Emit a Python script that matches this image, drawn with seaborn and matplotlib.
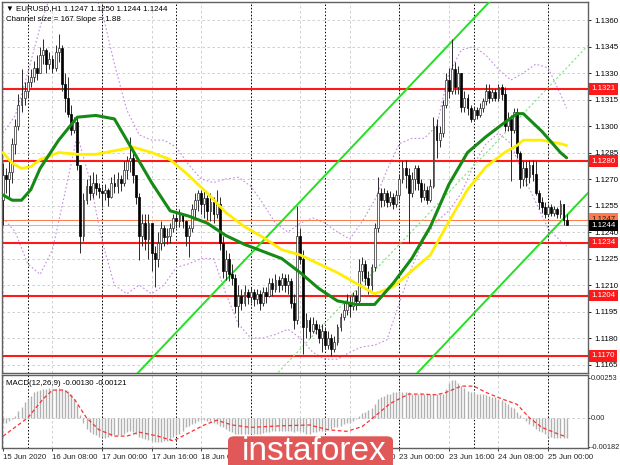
import numpy as np
import pandas as pd
import seaborn as sns
import matplotlib.pyplot as plt
from matplotlib.patches import FancyBboxPatch

sns.set_theme(style="white")
plt.rcParams['font.family'] = ['Liberation Sans', 'DejaVu Sans']

# ---- EURUSD H1 candles (bar 0 = 15 Jun 16:00) ----
first_open = 1.1258
bar_close = [1.1272, 1.1270, 1.1274, 1.1290, 1.1300, 1.1312, 1.1316, 1.1320, 1.1325, 1.1328,
             1.1333, 1.1330, 1.1340, 1.1343, 1.1335, 1.1338, 1.1333, 1.1342, 1.1344, 1.1324,
             1.1316, 1.1307, 1.1298, 1.1302, 1.1278, 1.1238, 1.1258, 1.1266, 1.1262, 1.1268,
             1.1265, 1.1263, 1.1262, 1.1264, 1.1260, 1.1268, 1.1266, 1.1270, 1.1268, 1.1275,
             1.1280, 1.1282, 1.1272, 1.1260, 1.1238, 1.1245, 1.1236, 1.1245, 1.1228, 1.1225,
             1.1234, 1.1242, 1.1237, 1.1238, 1.1242, 1.1248, 1.1246, 1.1250, 1.1246, 1.1238,
             1.1242, 1.1253, 1.1258, 1.1262, 1.1256, 1.1259, 1.1252, 1.1257, 1.1250, 1.1256,
             1.1234, 1.1218, 1.1225, 1.1216, 1.1214, 1.1198, 1.1204, 1.1200, 1.1206, 1.1203,
             1.1206, 1.1202, 1.1205, 1.1200, 1.1206, 1.1204, 1.1211, 1.1208, 1.1213, 1.1210,
             1.1214, 1.1210, 1.1212, 1.1200, 1.1190, 1.1238, 1.1225, 1.1186, 1.1190, 1.1184,
             1.1188, 1.1185, 1.1180, 1.1184, 1.1176, 1.1180, 1.1174, 1.1178, 1.1186, 1.1192,
             1.1196, 1.1200, 1.1198, 1.1204, 1.1201, 1.1218, 1.1222, 1.1214, 1.1210, 1.1220,
             1.1242, 1.1262, 1.1258, 1.1262, 1.1257, 1.1260, 1.1256, 1.1261, 1.1270, 1.1276,
             1.1272, 1.1262, 1.1270, 1.1276, 1.1268, 1.1260, 1.1264, 1.1258, 1.1266, 1.1300,
             1.1292, 1.1296, 1.1312, 1.1326, 1.1320, 1.1332, 1.1322, 1.1330, 1.1311, 1.1316,
             1.1310, 1.1304, 1.1309, 1.1306, 1.1310, 1.1314, 1.1320, 1.1316, 1.1319, 1.1316,
             1.1322, 1.1318, 1.1300, 1.1304, 1.1298, 1.1308, 1.1285, 1.1270, 1.1276, 1.1271,
             1.1278, 1.1273, 1.1262, 1.1257, 1.1254, 1.1250, 1.1254, 1.1251, 1.1253, 1.1250,
             1.1256, 1.1247, 1.1244]
bar_high = [1.1279, 1.1276, 1.1280, 1.1293, 1.1304, 1.1318, 1.1332, 1.1325, 1.1329, 1.1332,
            1.1337, 1.1340, 1.1345, 1.1349, 1.1344, 1.1342, 1.1340, 1.1346, 1.1352, 1.1346,
            1.1330, 1.1328, 1.1312, 1.1305, 1.1305, 1.1278, 1.1262, 1.1270, 1.1272, 1.1274,
            1.1273, 1.1268, 1.1266, 1.1267, 1.1265, 1.1271, 1.1273, 1.1274, 1.1272, 1.1280,
            1.1283, 1.1294, 1.1285, 1.1272, 1.1262, 1.1250, 1.1250, 1.1250, 1.1242, 1.1232,
            1.1240, 1.1246, 1.1244, 1.1242, 1.1245, 1.1250, 1.1252, 1.1253, 1.1251, 1.1247,
            1.1244, 1.1256, 1.1262, 1.1264, 1.1264, 1.1263, 1.1261, 1.1262, 1.1260, 1.1264,
            1.1260, 1.1238, 1.1230, 1.1228, 1.1222, 1.1216, 1.1210, 1.1208, 1.1210, 1.1208,
            1.1209, 1.1208, 1.1208, 1.1207, 1.1209, 1.1209, 1.1214, 1.1214, 1.1216, 1.1215,
            1.1217, 1.1216, 1.1216, 1.1214, 1.1205, 1.1255, 1.1242, 1.1230, 1.1194, 1.1192,
            1.1192, 1.1190, 1.1188, 1.1188, 1.1186, 1.1184, 1.1182, 1.1181, 1.1188, 1.1194,
            1.1200, 1.1205, 1.1204, 1.1206, 1.1207, 1.1225, 1.1226, 1.1224, 1.1218, 1.1222,
            1.1245, 1.1271, 1.1265, 1.1265, 1.1264, 1.1263, 1.1262, 1.1264, 1.1273, 1.1280,
            1.1281, 1.1276, 1.1274, 1.1278, 1.1278, 1.1270, 1.1268, 1.1266, 1.1270, 1.1305,
            1.1304, 1.1300, 1.1315, 1.1330, 1.1333, 1.1349, 1.1336, 1.1334, 1.1330, 1.1320,
            1.1318, 1.1312, 1.1311, 1.1311, 1.1313, 1.1316, 1.1324, 1.1324, 1.1321, 1.1321,
            1.1324, 1.1324, 1.1322, 1.1308, 1.1306, 1.1310, 1.1310, 1.1286, 1.1280, 1.1280,
            1.1281, 1.1281, 1.1280, 1.1264, 1.1260, 1.1257, 1.1256, 1.1256, 1.1255, 1.1254,
            1.1258, 1.1256, 1.1250]
bar_low = [1.1244, 1.1262, 1.1260, 1.1268, 1.1284, 1.1298, 1.1308, 1.1312, 1.1316, 1.1322,
           1.1325, 1.1326, 1.1332, 1.1335, 1.1330, 1.1332, 1.1330, 1.1331, 1.1336, 1.1320,
           1.1308, 1.1305, 1.1295, 1.1296, 1.1275, 1.1228, 1.1235, 1.1256, 1.1258, 1.1259,
           1.1261, 1.1259, 1.1254, 1.1258, 1.1255, 1.1259, 1.1262, 1.1262, 1.1263, 1.1266,
           1.1270, 1.1274, 1.1268, 1.1256, 1.1224, 1.1232, 1.1230, 1.1225, 1.1218, 1.1209,
           1.1220, 1.1230, 1.1232, 1.1233, 1.1234, 1.1240, 1.1242, 1.1243, 1.1242, 1.1232,
           1.1226, 1.1240, 1.1248, 1.1252, 1.1250, 1.1248, 1.1247, 1.1246, 1.1245, 1.1248,
           1.1230, 1.1214, 1.1213, 1.1212, 1.1210, 1.1194, 1.1186, 1.1196, 1.1198, 1.1199,
           1.1200, 1.1198, 1.1199, 1.1196, 1.1198, 1.1200, 1.1203, 1.1204, 1.1206, 1.1206,
           1.1207, 1.1206, 1.1205, 1.1197, 1.1185, 1.1188, 1.1222, 1.1171, 1.1180, 1.1180,
           1.1183, 1.1182, 1.1177, 1.1172, 1.1174, 1.1174, 1.1170, 1.1172, 1.1176, 1.1184,
           1.1190, 1.1193, 1.1192, 1.1196, 1.1196, 1.1200, 1.1212, 1.1210, 1.1205, 1.1207,
           1.1218, 1.1240, 1.1254, 1.1255, 1.1254, 1.1255, 1.1253, 1.1254, 1.1258, 1.1268,
           1.1265, 1.1234, 1.1260, 1.1264, 1.1264, 1.1257, 1.1258, 1.1256, 1.1257, 1.1265,
           1.1282, 1.1288, 1.1294, 1.1310, 1.1316, 1.1318, 1.1318, 1.1318, 1.1308, 1.1308,
           1.1306, 1.1302, 1.1303, 1.1304, 1.1305, 1.1308, 1.1312, 1.1313, 1.1314, 1.1314,
           1.1314, 1.1315, 1.1297, 1.1297, 1.1269, 1.1296, 1.1282, 1.1265, 1.1266, 1.1266,
           1.1268, 1.1269, 1.1261, 1.1253, 1.1251, 1.1248, 1.1249, 1.1249, 1.1249, 1.1248,
           1.1248, 1.1244, 1.1244]

# moving averages, every few bars
ma_bars = [0, 3, 6, 9, 12, 18, 24, 30, 36, 42, 48, 54, 60, 66, 72, 78, 84, 90, 96, 102, 108,
           114, 120, 126, 132, 138, 144, 150, 156, 162, 166, 168, 174, 180, 182]
ma_green = [1.1261, 1.1258, 1.1258, 1.1264, 1.1276, 1.1292, 1.1305, 1.1306, 1.1304, 1.1286,
            1.1268, 1.1252, 1.1249, 1.1245, 1.1238, 1.1233, 1.1229, 1.1225, 1.1217, 1.1208,
            1.1201, 1.1199, 1.1199, 1.1211, 1.1225, 1.1243, 1.1267, 1.1285, 1.1294, 1.1302,
            1.1307, 1.1307, 1.1297, 1.1285, 1.1282]
ma_yellow = [1.1285, 1.1279, 1.1276, 1.1277, 1.1281, 1.1285, 1.1284, 1.1284, 1.1286, 1.1288,
             1.1285, 1.1281, 1.1272, 1.1262, 1.1251, 1.1243, 1.1237, 1.1230, 1.1227, 1.1222,
             1.1217, 1.1211, 1.1205, 1.1209, 1.1218, 1.1227, 1.1246, 1.1264, 1.1277, 1.1285,
             1.1289, 1.1292, 1.1292, 1.1290, 1.1289]

# envelope bands (purple dotted), read every 4 bars
band_bars = [0, 4, 8, 12, 16, 20, 24, 28, 32, 36, 40, 44, 48, 52, 56, 60, 64, 68, 72, 76,
             80, 84, 88, 92, 96, 100, 104, 108, 112, 116, 120, 124, 128, 132, 136, 140, 144,
             148, 152, 156, 160, 164, 168, 172, 176, 180, 182]
band_upper = [1.1296, 1.1306, 1.1330, 1.1356, 1.1378, 1.1388, 1.1390, 1.1380, 1.1365, 1.1335,
              1.1309, 1.1295, 1.1292, 1.1292, 1.1288, 1.1278, 1.1270, 1.1268, 1.1270, 1.1271,
              1.1266, 1.1256, 1.1245, 1.1240, 1.1245, 1.1248, 1.1245, 1.1240, 1.1236, 1.1246,
              1.1258, 1.1275, 1.1290, 1.1293, 1.1293, 1.1300, 1.1330, 1.1343, 1.1345, 1.1340,
              1.1332, 1.1326, 1.1330, 1.1335, 1.1333, 1.1318, 1.1310]
band_lower = [1.1248, 1.1240, 1.1222, 1.1216, 1.1230, 1.1262, 1.1295, 1.1270, 1.1235, 1.1210,
              1.1205, 1.1210, 1.1205, 1.1210, 1.1220, 1.1222, 1.1225, 1.1225, 1.1205, 1.1188,
              1.1180, 1.1180, 1.1182, 1.1185, 1.1180, 1.1172, 1.1168, 1.1168, 1.1172, 1.1175,
              1.1176, 1.1179, 1.1200, 1.1220, 1.1236, 1.1246, 1.1252, 1.1262, 1.1278, 1.1290,
              1.1296, 1.1290, 1.1272, 1.1257, 1.1242, 1.1235, 1.1232]

# regression channel: "Channel size = 167 Slope = 1.88"
channel_anchor_bar = 130.45
channel_anchor_price = 1.1321
channel_slope = 0.000185
channel_size = 0.0167

levels = [1.1321, 1.1280, 1.1234, 1.1204, 1.1170]
open_price = 1.1247
bid_price = 1.1244
price_ticks = [1.1360, 1.1345, 1.1330, 1.1315, 1.1300, 1.1285, 1.1270, 1.1255, 1.1240,
               1.1225, 1.1210, 1.1195, 1.1180, 1.1165]

# MACD(12,26,9) histogram per bar and signal line
macd_hist = [-0.0003, -0.0003, -0.0002, -0.0001, 0.0001, 0.00045, 0.0007, 0.001, 0.0012, 0.0014,
             0.0016, 0.0017, 0.00175, 0.0018, 0.0018, 0.00185, 0.0018, 0.0018, 0.0019, 0.0018,
             0.00175, 0.0017, 0.0015, 0.0012, 0.0008, 0.0002, -0.0003, -0.0007, -0.0009, -0.001,
             -0.0011, -0.0012, -0.0012, -0.00125, -0.0012, -0.00115, -0.0011, -0.0011, -0.00105, -0.001,
             -0.0009, -0.00085, -0.0009, -0.001, -0.0012, -0.0013, -0.00135, -0.0014, -0.00145, -0.0015,
             -0.0015, -0.0015, -0.00148, -0.00145, -0.0014, -0.0012, -0.0011, -0.001, -0.0008, -0.0006,
             -0.0005, -0.0004, -0.0003, -0.0002, -0.00015, -0.00015, -0.0002, -0.0002, -0.0003, -0.0004,
             -0.0005, -0.0006, -0.0007, -0.0008, -0.0009, -0.001, -0.001, -0.001, -0.001, -0.001,
             -0.001, -0.001, -0.001, -0.001, -0.00095, -0.0009, -0.0009, -0.00085, -0.00085, -0.0008,
             -0.0008, -0.0008, -0.0008, -0.0008, -0.0009, -0.0008, -0.0008, -0.0009, -0.001, -0.001,
             -0.0009, -0.0009, -0.00085, -0.0008, -0.0008, -0.0007, -0.0007, -0.0006, -0.0006, -0.0005,
             -0.0004, -0.0003, -0.0003, -0.0002, -0.0001, 0.0001, 0.0003, 0.0004, 0.0005, 0.0006,
             0.0009, 0.0012, 0.0013, 0.0014, 0.0015, 0.0015, 0.0016, 0.0016, 0.0016, 0.0016,
             0.0016, 0.0016, 0.0015, 0.0015, 0.0015, 0.0015, 0.0015, 0.0015, 0.0015, 0.0015,
             0.0015, 0.0015, 0.0015, 0.0018, 0.0022, 0.0024, 0.0024, 0.0022, 0.002, 0.0019,
             0.0017, 0.0016, 0.0016, 0.0015, 0.0015, 0.0015, 0.00145, 0.0014, 0.0013, 0.0013,
             0.0012, 0.0011, 0.001, 0.0009, 0.0007, 0.0006, 0.0004, 0.0002, 0.0, -0.0002,
             -0.0004, -0.0005, -0.0007, -0.0008, -0.0009, -0.001, -0.0012, -0.0012, -0.00125, -0.00125,
             -0.0013, -0.0013, -0.0013]
signal_bars = [0, 8, 13, 16, 20, 23, 27, 31, 36, 40, 44, 50, 55, 59, 65, 69, 74, 80, 90, 99,
               105, 111, 116, 121, 125, 131, 135, 140, 143, 148, 152, 156, 161, 166, 170, 174,
               179, 182]
signal_vals = [-0.00116, 0.0, 0.0012, 0.00175, 0.00175, 0.0012, 0.0, -0.00075, -0.00115, -0.00115,
               -0.0009, -0.00115, -0.00145, -0.00105, -0.00045, -0.00015, -0.00045, -0.0006, -0.0005, -0.00045,
               -0.00075, -0.00085, -0.00055, 0.00025, 0.0009, 0.0015, 0.0015, 0.00145, 0.0016, 0.002,
               0.002, 0.0016, 0.0012, 0.00085, 0.0, -0.0006, -0.001, -0.0012]

tick_bars = [0, 16, 32, 48, 64, 80, 96, 112, 128, 144, 160, 176]
tick_labels = ['15 Jun 2020', '16 Jun 08:00', '17 Jun 00:00', '17 Jun 16:00', '18 Jun 08:00',
               '19 Jun 00:00', '19 Jun 16:00', '22 Jun 08:00', '23 Jun 00:00', '23 Jun 16:00',
               '24 Jun 08:00', '25 Jun 00:00']
day_bars = [8, 32, 56, 80, 104, 128, 152, 176]

# ---- build frame ----
n = len(bar_close)
df = pd.DataFrame({'bar': np.arange(n), 'close': bar_close, 'high': bar_high, 'low': bar_low})
df['open'] = df['close'].shift(1).fillna(first_open)
df['top'] = df[['open', 'close']].max(axis=1)
df['bot'] = df[['open', 'close']].min(axis=1)
df['up'] = df['close'] >= df['open']

W, H = 620, 465
fig = plt.figure(figsize=(6.2, 4.65), dpi=100)
fig.patch.set_facecolor('white')
ax = fig.add_axes([2 / W, 1 - 373 / H, 586 / W, 371 / H])
mx = fig.add_axes([2 / W, 1 - 448 / H, 586 / W, 73 / H], sharex=ax)

FS = 5.7
xmin, xmax = -0.3, 188.9
grid_kw = dict(color='#c8c8c8', lw=0.6, ls=(0, (3, 3)), zorder=0)

for a in (ax, mx):
    for b in tick_bars:
        a.axvline(b, **grid_kw)
    for b in day_bars:
        a.axvline(b, color='black', lw=0.7, ls=(0, (1.5, 2)), zorder=0.5)
    for s in a.spines.values():
        s.set_color('#606060')
        s.set_linewidth(1.0)
    a.set_facecolor('white')

for p in price_ticks:
    ax.axhline(p, **grid_kw)

# ---- indicators under candles ----
ax.plot(band_bars, band_upper, color='#c58be0', lw=0.8, ls=(0, (1.5, 2)), zorder=1)
ax.plot(band_bars, band_lower, color='#c58be0', lw=0.8, ls=(0, (1.5, 2)), zorder=1)

chan_x = np.array([xmin, xmax])
upper_line = channel_anchor_price + channel_slope * (chan_x - channel_anchor_bar)
ax.plot(chan_x, upper_line, color='#22e022', lw=1.4, zorder=3)
ax.plot(chan_x, upper_line - channel_size, color='#22e022', lw=1.4, zorder=3)
ax.plot(chan_x, upper_line - channel_size / 2, color='#7fe07f', lw=0.8, ls=(0, (2, 2)), zorder=3)

for lv in levels:
    ax.axhline(lv, color='#ff1a1a', lw=1.5, zorder=2)
ax.axhline(open_price, color='#ff7a4a', lw=0.7, zorder=2)
ax.axhline(bid_price, color='#bdbdbd', lw=0.8, zorder=2)

# ---- candles ----
ax.vlines(df['bar'], df['low'], df['high'], color='#2b2b2b', lw=0.7, zorder=4)
body_h = (df['top'] - df['bot']).clip(lower=0.00004)
ax.bar(df.loc[df['up'], 'bar'], body_h[df['up']], bottom=df.loc[df['up'], 'bot'], width=0.6,
       color='white', edgecolor='#2b2b2b', linewidth=0.5, zorder=5)
ax.bar(df.loc[~df['up'], 'bar'], body_h[~df['up']], bottom=df.loc[~df['up'], 'bot'], width=0.6,
       color='black', edgecolor='black', linewidth=0.5, zorder=5)

sns.lineplot(x=ma_bars, y=ma_yellow, ax=ax, color='#ffee00', linewidth=2.0, zorder=6)
sns.lineplot(x=ma_bars, y=ma_green, ax=ax, color='#158a15', linewidth=2.2, zorder=7)

ax.set_xlim(xmin, xmax)
ax.set_ylim(1.11602, 1.13702)
ax.yaxis.tick_right()
ax.set_yticks(price_ticks)
ax.set_yticklabels([f'{p:.4f}' for p in price_ticks])
ax.tick_params(axis='y', labelsize=FS, length=2.5, pad=2, colors='black', width=0.6)
ax.tick_params(axis='x', bottom=False, labelbottom=False)
ax.set_xlabel('')
ax.set_ylabel('')

# boxed price labels on the scale
tr = ax.get_yaxis_transform()
for lv in levels:
    ax.text(1.006, lv, f'{lv:.4f}', transform=tr, fontsize=FS, color='white', va='center', ha='left',
            bbox=dict(boxstyle='square,pad=0.3', fc='#ff1a1a', ec='none'), zorder=10, clip_on=False)
ax.text(1.006, open_price + 0.00003, f'{open_price:.4f}', transform=tr, fontsize=FS, color='#202020',
        va='center', ha='left', bbox=dict(boxstyle='square,pad=0.3', fc='#ff7a4a', ec='none'),
        zorder=10, clip_on=False)
ax.text(1.006, bid_price - 0.00003, f'{bid_price:.4f}', transform=tr, fontsize=FS, color='white',
        va='center', ha='left', bbox=dict(boxstyle='square,pad=0.3', fc='black', ec='none'),
        zorder=11, clip_on=False)

ax.text(0.006, 0.993, '\u25bc EURUSD,H1 1.1247 1.1250 1.1244 1.1244', transform=ax.transAxes,
        fontsize=FS, va='top', ha='left', color='black')
ax.text(0.006, 0.963, 'Channel size = 167 Slope = 1.88', transform=ax.transAxes,
        fontsize=FS, va='top', ha='left', color='black')

# ---- MACD window ----
mx.axhline(0, **grid_kw)
mx.vlines(np.arange(n), 0, macd_hist, color='#b0b0b0', lw=1.0, zorder=2)
mx.plot(signal_bars, signal_vals, color='#ff3030', lw=0.9, ls=(0, (3, 2)), zorder=3)
mx.set_ylim(-0.0019, 0.0027)
mx.set_xlim(xmin, xmax)
mx.yaxis.tick_right()
mx.set_yticks([0.00253, 0.0, -0.00182])
mx.set_yticklabels(['0.00253', '0.00', '-0.00182'])
mx.tick_params(axis='y', labelsize=5.3, length=1.5, pad=0.5, width=0.6)
mx.set_xticks(tick_bars)
mx.set_xticklabels(tick_labels, ha='left')
mx.tick_params(axis='x', labelsize=FS, length=2.5, pad=2, width=0.6, bottom=True)
mx.text(0.006, 0.93, 'MACD(12,26,9) -0.00130 -0.00121', transform=mx.transAxes,
        fontsize=FS, va='top', ha='left', color='black')

# ---- watermark ----
badge = FancyBboxPatch((228 / W, -0.02), 165 / W, 38 / H, transform=fig.transFigure,
                       boxstyle='round,pad=0,rounding_size=0.01', fc='#e05858', ec='none')
fig.add_artist(badge)
fig.text(314 / W, 1 - 451 / H, 'instaforex', fontsize=24, color='white', ha='center', va='center',
         fontweight='light')

fig.savefig('out.png', dpi=100)
